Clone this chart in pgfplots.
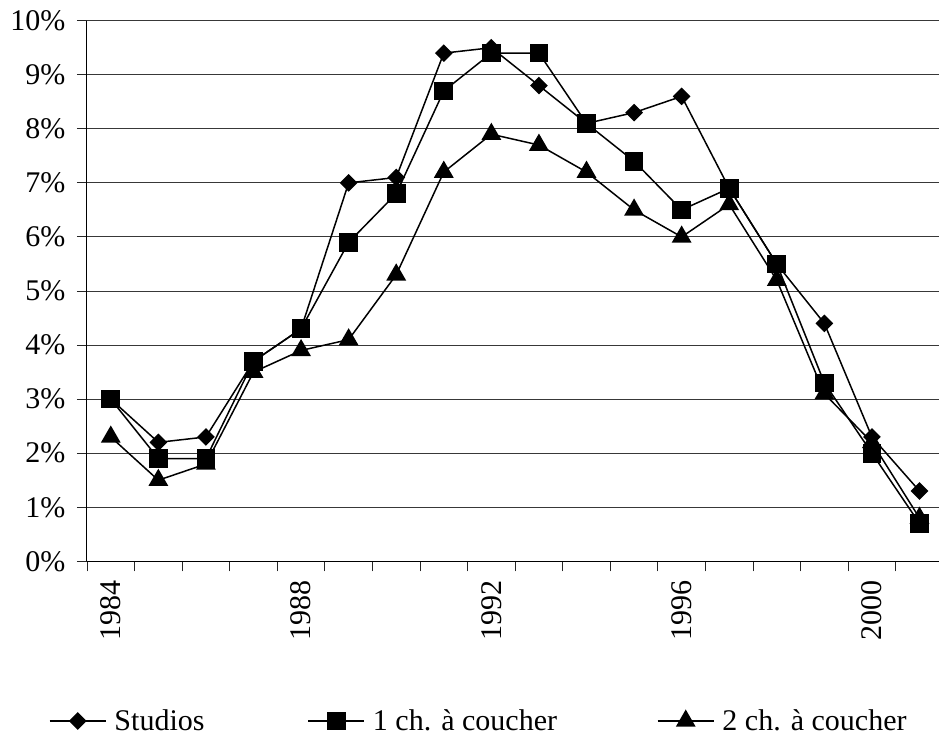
\documentclass[border=0pt]{standalone}
\usepackage{fontspec}
\setmainfont{Liberation Serif}
\usepackage{pgfplots}
\usepackage{pgfplotstable}
\pgfplotsset{compat=1.18}
\pgfplotstableread{
x studios one two
0  3.0 3.0 2.3
1  2.2 1.9 1.5
2  2.3 1.9 1.8
3  3.7 3.7 3.5
4  4.3 4.3 3.9
5  7.0 5.9 4.1
6  7.1 6.8 5.3
7  9.4 8.7 7.2
8  9.5 9.4 7.9
9  8.8 9.4 7.7
10 8.1 8.1 7.2
11 8.3 7.4 6.5
12 8.6 6.5 6.0
13 6.9 6.9 6.6
14 5.5 5.5 5.2
15 4.4 3.3 3.1
16 2.3 2.0 2.2
17 1.3 0.7 0.8
}\datatable
\begin{document}
\begin{tikzpicture}[x=1pt,y=1pt]
\useasboundingbox (-87,-176.7) rectangle (852,561.3);
\begin{axis}[
  at={(0,0)}, anchor=south west,
  scale only axis, width=852pt, height=540.6pt,
  xmin=-0.5, xmax=17.41, ymin=0, ymax=10,
  axis x line*=bottom, axis y line*=left,
  axis line style={-, line width=1pt, black},
  xtick={-0.5,0.5,...,16.5}, xticklabels={},
  extra x ticks={0,4,8,12,16},
  extra x tick labels={1984,1988,1992,1996,2000},
  extra x tick style={major tick length=0pt, xticklabel style={rotate=90, anchor=east, xshift=-16pt}},
  ytick={0,1,...,10},
  yticklabels={0\%,1\%,2\%,3\%,4\%,5\%,6\%,7\%,8\%,9\%,10\%},
  major tick length=10pt,
  tick align=outside,
  tick style={black!85, line width=0.9pt},
  ymajorgrids, grid style={line width=0.9pt, color=black!78},
  ticklabel style={font=\fontsize{30}{36}\selectfont},
  yticklabel style={xshift=-8pt},
  legend columns=3,
  legend style={at={(-0.0446,-0.2954)}, anchor=west, draw=none, fill=none,
    inner sep=0pt, outer sep=0pt,
    nodes={inner sep=0pt, font=\fontsize{30}{36}\selectfont},
    /tikz/every odd column/.append style={column sep=8pt}},
  legend image code/.code={\draw[mark repeat=2,mark phase=2,#1] plot coordinates {(0pt,0pt)(28pt,0pt)(56pt,0pt)};},
  every axis plot/.append style={black, line width=1.5pt, mark options={solid}},
]
\addplot[mark=square*, mark size=5.5pt, mark options={rotate=45}] table[x=x, y=studios] {\datatable};
\addlegendentry{\makebox[193pt][l]{Studios}}
\addplot[mark=square*, mark size=8.6pt] table[x=x, y=one] {\datatable};
\addlegendentry{\makebox[284pt][l]{1 ch. à coucher}}
\addplot[mark=triangle*, mark size=10pt] table[x=x, y=two] {\datatable};
\addlegendentry{2 ch. à coucher}
\end{axis}
\end{tikzpicture}
\end{document}
